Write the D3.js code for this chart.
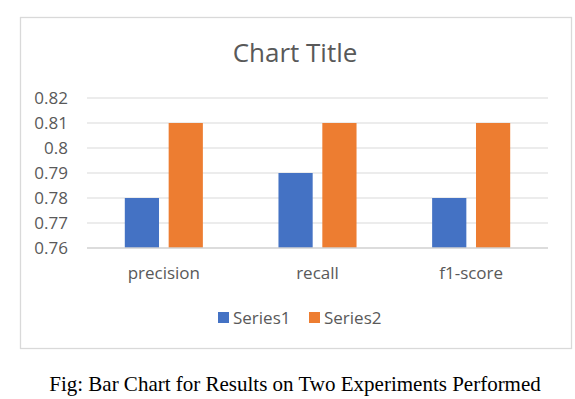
<!DOCTYPE html>
<html lang="en">
<head>
    <meta charset="UTF-8">
    <title>Chart Title</title>
    <style>
        body {
            margin: 0;
            background: white;
        }
        text {
            font-family: "Open Sans", sans-serif;
            fill: #595959;
        }
        .caption {
            font-family: "Liberation Serif", "Times New Roman", serif;
            fill: #000;
        }
    </style>
</head>
<body>
    <script src="https://d3js.org/d3.v7.min.js"></script>
    <script type="text/javascript">
        // chart data
        var categories = ["precision", "recall", "f1-score"];
        var seriesNames = ["Series1", "Series2"];
        var series1 = [0.78, 0.79, 0.78];
        var series2 = [0.81, 0.81, 0.81];
        var yTicks = [0.76, 0.77, 0.78, 0.79, 0.8, 0.81, 0.82];

        var colors = ["#4472C4", "#ED7D31"];
        var width = 575, height = 399;

        var svg = d3.select("body")
                    .append("svg")
                    .attr("width", width)
                    .attr("height", height);

        // outer chart frame
        svg.append("rect")
           .attr("x", 20.5).attr("y", 17.5)
           .attr("width", 551).attr("height", 331)
           .attr("fill", "white")
           .attr("stroke", "#D9D9D9")
           .attr("stroke-width", 1.3);

        // title
        svg.append("text")
           .attr("x", 295).attr("y", 62)
           .attr("text-anchor", "middle")
           .style("font-size", "26px")
           .text("Chart Title");

        // scales
        var y = d3.scaleLinear().domain([0.76, 0.82]).range([248, 98]);
        var x0 = d3.scaleBand().domain(categories).range([87, 548])
                   .paddingInner(0.492).paddingOuter(0.246);
        var x1 = d3.scaleBand().domain(seriesNames).range([0, x0.bandwidth()])
                   .paddingInner(0.22);

        // gridlines
        svg.append("g").selectAll("line")
           .data(yTicks.slice(1))
           .enter().append("line")
           .attr("x1", 87).attr("x2", 548)
           .attr("y1", function(d) { return y(d); })
           .attr("y2", function(d) { return y(d); })
           .attr("stroke", "#D9D9D9")
           .attr("stroke-width", 1);

        // y labels
        svg.append("g").selectAll("text")
           .data(yTicks)
           .enter().append("text")
           .attr("x", 68)
           .attr("y", function(d) { return y(d) + 6; })
           .attr("text-anchor", "end")
           .style("font-size", "17px")
           .text(function(d) { return d3.format("")(+d.toFixed(2)); });

        // bars
        var rows = categories.map(function(c, i) {
            return { cat: c, values: [series1[i], series2[i]] };
        });
        var groups = svg.append("g").selectAll("g")
           .data(rows)
           .enter().append("g")
           .attr("transform", function(d) { return "translate(" + x0(d.cat) + ",0)"; });

        groups.selectAll("rect")
           .data(function(d) {
               return d.values.map(function(v, j) { return { name: seriesNames[j], value: v, j: j }; });
           })
           .enter().append("rect")
           .attr("x", function(d) { return x1(d.name); })
           .attr("width", x1.bandwidth())
           .attr("y", function(d) { return y(d.value); })
           .attr("height", function(d) { return y(0.76) - y(d.value); })
           .attr("fill", function(d) { return colors[d.j]; });

        // x axis line
        svg.append("line")
           .attr("x1", 87).attr("x2", 548)
           .attr("y1", y(0.76)).attr("y2", y(0.76))
           .attr("stroke", "#D0D0D0")
           .attr("stroke-width", 1.5);

        // category labels
        svg.append("g").selectAll("text")
           .data(categories)
           .enter().append("text")
           .attr("x", function(d) { return x0(d) + x0.bandwidth() / 2; })
           .attr("y", 279)
           .attr("text-anchor", "middle")
           .style("font-size", "17px")
           .text(function(d) { return d; });

        // legend
        var legendX = [218, 309];
        var legend = svg.append("g").selectAll("g")
           .data(seriesNames)
           .enter().append("g")
           .attr("transform", function(d, i) { return "translate(" + legendX[i] + ",312)"; });
        legend.append("rect")
           .attr("width", 11).attr("height", 11)
           .attr("fill", function(d, i) { return colors[i]; });
        legend.append("text")
           .attr("x", 15).attr("y", 11.5)
           .style("font-size", "17px")
           .text(function(d) { return d; });

        // caption below the figure
        svg.append("text")
           .attr("class", "caption")
           .attr("x", 295).attr("y", 391)
           .attr("text-anchor", "middle")
           .style("font-size", "21px")
           .text("Fig: Bar Chart for Results on Two Experiments Performed");
    </script>
</body>
</html>
